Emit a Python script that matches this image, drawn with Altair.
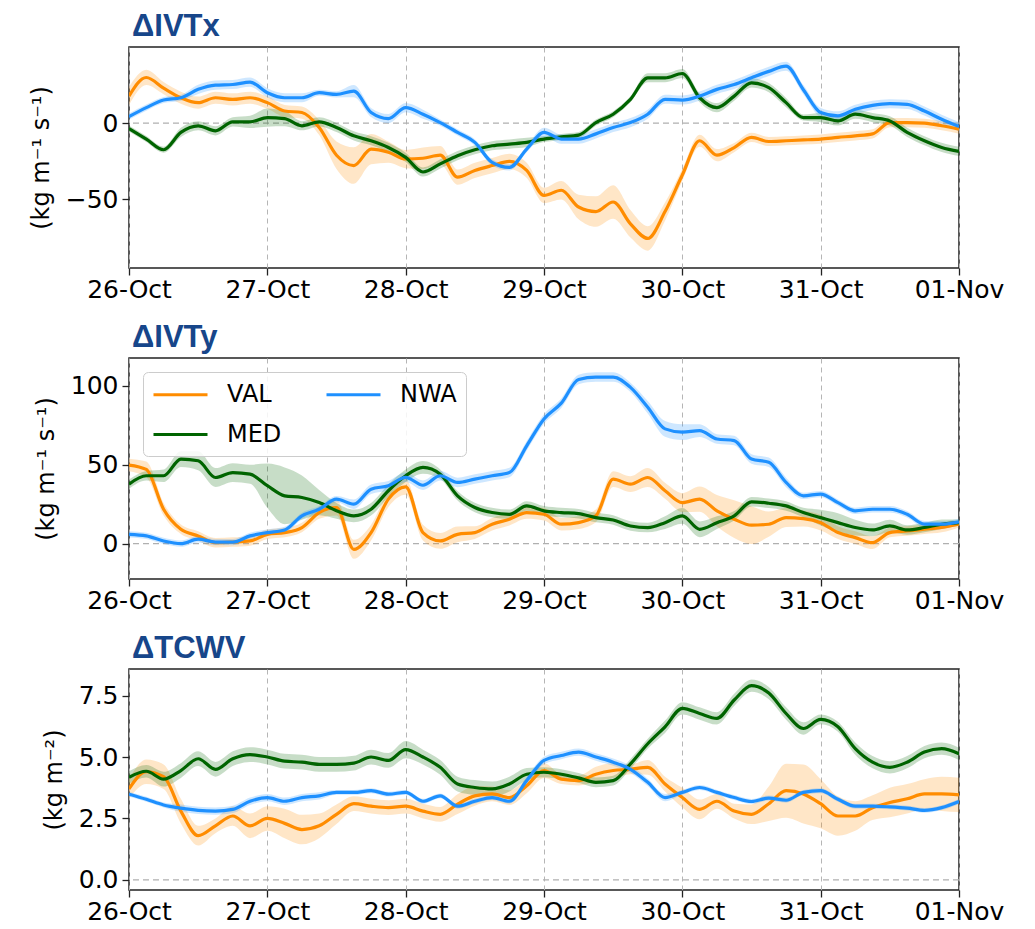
import altair as alt
import pandas as pd

# 3-hourly sample times, in days after 26-Oct 00:00
days = [i * 0.125 for i in range(49)]
day_ticks = [0, 1, 2, 3, 4, 5, 6]
day_labels = ["26-Oct", "27-Oct", "28-Oct", "29-Oct", "30-Oct", "31-Oct", "01-Nov"]

# legend order (column-wise, 2 columns): VAL, MED | NWA
regions = ["VAL", "MED", "NWA"]
region_colors = ["#ff8c00", "#006400", "#1e90ff"]
band_regions = ["VAL", "NWA", "MED"]
band_colors = ["#ff8c00", "#1e90ff", "#006400"]

# ---- ΔIVTx ----
ivtx_val = [17.8, 30.0, 23.0, 16.7, 13.5, 16.7, 15.6, 16.7,
            13.5, 8.0, 7.0, -2.8, -21.0, -27.8, -17.0, -19.0,
            -23.5, -23.0, -21.0, -35.4, -31.0, -27.8, -25.0, -31.0,
            -47.4, -44.0, -55.0, -58.0, -51.7, -66.0, -75.6, -58.0,
            -34.0, -11.5, -21.0, -16.0, -9.3, -12.0, -11.5, -11.0,
            -10.4, -9.3, -8.3, -7.0, 0.4, 0.4, 0.0, -1.7, -3.9]
ivtx_med = [-3.5, -10.4, -17.4, -6.0, -1.7, -5.0, 0.9, 0.9,
            3.7, 3.0, -1.7, 0.9, -2.8, -8.3, -11.5, -15.9,
            -22.4, -32.0, -26.7, -21.3, -17.4, -14.8, -13.7, -12.6,
            -10.4, -9.0, -7.8, 0.4, 5.9, 15.7, 29.8, 29.8,
            32.6, 16.7, 10.2, 17.8, 26.5, 23.3, 13.5, 3.7,
            3.7, 1.5, 5.9, 3.7, 1.5, -6.0, -11.5, -15.9, -18.5]
ivtx_nwa = [4.3, 10.2, 15.2, 16.7, 22.2, 25.0, 25.4, 27.0,
            20.0, 16.7, 16.7, 20.0, 18.9, 21.0, 7.0, 3.0,
            10.2, 5.9, 0.4, -6.0, -12.6, -25.7, -29.0, -17.0,
            -6.0, -10.4, -10.4, -7.0, -2.8, 0.4, 5.9, 15.7,
            15.2, 17.8, 22.2, 25.4, 29.8, 34.0, 37.4, 22.0,
            7.0, 4.8, 9.1, 11.7, 12.8, 12.4, 8.0, 2.6, -2.2]
ivtx_val_sp = [6, 5, 4, 4, 4, 4, 4, 4,
               4, 4, 4, 5, 9, 12, 10, 7,
               6, 7, 6, 5, 5, 5, 5, 5,
               5, 6, 8, 10, 11, 9, 8, 6,
               4, 4, 4, 3, 3, 3, 3, 3,
               3, 3, 3, 3, 3, 3, 3, 3, 3]
ivtx_med_sp = [2, 2, 2, 3, 3, 3, 3, 4,
               6, 5, 3, 3, 3, 3, 3, 3,
               3, 3, 3, 3, 3, 3, 3, 3,
               2, 2, 2, 2, 2, 2, 3, 3,
               3, 3, 3, 3, 3, 3, 3, 2,
               3, 3, 3, 3, 3, 3, 3, 3, 3]
ivtx_nwa_sp = [2, 2, 2, 2, 3, 3, 3, 3,
               3, 3, 3, 2, 2, 4, 3, 3,
               3, 3, 2, 2, 2, 2, 2, 2,
               3, 3, 3, 3, 3, 3, 3, 3,
               3, 3, 3, 3, 3, 3, 3, 3,
               3, 3, 3, 3, 3, 3, 3, 3, 3]

# ---- ΔIVTy ----
ivty_val = [49.8, 47.0, 21.8, 9.1, 4.9, 0.6, 1.0, 1.7,
            5.9, 7.0, 10.2, 19.7, 22.9, -3.6, 7.0, 28.2,
            36.0, 7.0, 1.7, 5.9, 7.0, 12.3, 15.5, 19.7,
            18.6, 12.3, 13.3, 17.6, 40.9, 37.7, 41.9, 33.5,
            26.0, 28.2, 20.8, 15.5, 11.7, 12.3, 16.5, 15.9,
            13.3, 7.0, 3.8, 0.6, 7.0, 8.0, 9.1, 10.2, 12.3]
ivty_med = [37.7, 43.0, 43.0, 53.6, 52.5, 41.9, 45.0, 44.0,
            36.7, 30.3, 29.2, 26.0, 20.8, 17.6, 21.8, 33.5,
            43.0, 48.3, 44.0, 30.3, 22.9, 19.7, 18.6, 23.9,
            20.8, 19.7, 19.0, 16.5, 15.0, 11.2, 10.2, 13.3,
            17.6, 9.1, 13.3, 17.6, 26.5, 25.6, 23.9, 19.7,
            16.5, 13.3, 10.2, 8.7, 11.2, 8.7, 10.2, 12.3, 13.3]
ivty_nwa = [5.9, 4.9, 1.7, 0.0, 2.8, 1.0, 1.0, 4.9,
            7.0, 8.7, 17.6, 21.8, 28.2, 25.0, 34.5, 36.7,
            42.0, 37.0, 43.0, 38.8, 40.9, 43.0, 45.0, 62.0,
            79.0, 89.0, 104.0, 105.5, 105.5, 99.0, 86.4, 72.7,
            70.6, 71.6, 66.3, 65.3, 53.6, 51.5, 38.8, 30.3,
            31.4, 26.0, 20.8, 21.8, 21.8, 18.6, 12.3, 12.3, 13.8]
ivty_val_sp = [4, 5, 4, 3, 3, 3, 3, 3,
               3, 3, 3, 4, 5, 6, 5, 5,
               5, 5, 5, 5, 4, 4, 4, 4,
               4, 4, 4, 4, 5, 5, 6, 5,
               6, 8, 10, 12, 12, 8, 6, 5,
               5, 4, 4, 4, 3, 3, 3, 3, 2]
ivty_med_sp = [3, 3, 4, 5, 6, 6, 6, 6,
               14, 18, 14, 8, 5, 4, 4, 4,
               4, 4, 3, 3, 3, 3, 3, 3,
               3, 3, 3, 3, 3, 3, 3, 4,
               5, 5, 4, 3, 3, 3, 3, 3,
               5, 6, 5, 4, 4, 3, 3, 3, 2]
ivty_nwa_sp = [2, 2, 2, 2, 2, 2, 2, 2,
               2, 2, 2, 2, 2, 3, 3, 3,
               3, 3, 3, 3, 3, 3, 3, 3,
               3, 3, 3, 3, 3, 3, 4, 5,
               5, 4, 3, 3, 3, 3, 3, 2,
               2, 2, 2, 2, 2, 2, 2, 2, 2]

# ---- ΔTCWV ----
tcwv_val = [3.7, 4.4, 4.2, 2.8, 1.8, 2.2, 2.6, 2.2,
            2.5, 2.3, 2.05, 2.2, 2.67, 3.1, 3.0, 2.94,
            3.0, 2.8, 2.67, 3.08, 3.42, 3.5, 3.35, 3.83,
            4.45, 4.1, 4.04, 4.3, 4.45, 4.5, 4.58, 3.9,
            3.35, 2.87, 3.2, 2.8, 2.67, 3.1, 3.63, 3.5,
            3.1, 2.6, 2.6, 2.94, 3.15, 3.3, 3.5, 3.5, 3.46]
tcwv_med = [4.17, 4.42, 4.1, 4.45, 4.93, 4.5, 4.93, 5.1,
            5.0, 4.83, 4.79, 4.7, 4.7, 4.75, 5.0, 4.86,
            5.3, 5.0, 4.58, 3.9, 3.76, 3.7, 3.9, 4.3,
            4.38, 4.3, 4.15, 3.97, 4.04, 4.72, 5.54, 6.23,
            6.98, 6.77, 6.57, 7.32, 7.9, 7.6, 6.77, 6.16,
            6.53, 6.23, 5.34, 4.79, 4.58, 4.79, 5.2, 5.34, 5.13]
tcwv_nwa = [3.49, 3.28, 3.05, 2.92, 2.83, 2.8, 2.87, 3.2,
            3.35, 3.2, 3.35, 3.42, 3.56, 3.56, 3.63, 3.49,
            3.56, 3.2, 3.42, 3.0, 3.2, 3.35, 3.2, 4.04,
            4.86, 5.06, 5.2, 5.0, 4.79, 4.5, 3.97, 3.35,
            3.56, 3.76, 3.56, 3.35, 3.19, 3.33, 3.24, 3.56,
            3.63, 3.28, 3.0, 3.0, 2.97, 2.92, 2.83, 2.94, 3.19]
tcwv_val_sp = [0.4, 0.5, 0.5, 0.5, 0.4, 0.3, 0.4, 0.5,
               0.5, 0.6, 0.6, 0.5, 0.4, 0.3, 0.3, 0.3,
               0.3, 0.3, 0.3, 0.4, 0.4, 0.3, 0.3, 0.3,
               0.3, 0.2, 0.2, 0.3, 0.3, 0.2, 0.3, 0.3,
               0.4, 0.4, 0.3, 0.3, 0.4, 0.7, 1.1, 1.2,
               1.0, 0.8, 0.6, 0.5, 0.6, 0.6, 0.6, 0.7, 0.7]
tcwv_med_sp = [0.25, 0.25, 0.3, 0.3, 0.3, 0.3, 0.3, 0.3,
               0.3, 0.3, 0.3, 0.3, 0.3, 0.3, 0.3, 0.3,
               0.35, 0.3, 0.3, 0.3, 0.3, 0.3, 0.3, 0.25,
               0.2, 0.2, 0.2, 0.2, 0.2, 0.2, 0.2, 0.25,
               0.25, 0.25, 0.25, 0.25, 0.25, 0.25, 0.25, 0.25,
               0.2, 0.2, 0.25, 0.25, 0.25, 0.25, 0.25, 0.25, 0.25]
tcwv_nwa_sp = [0.1, 0.1, 0.1, 0.15, 0.15, 0.15, 0.15, 0.15,
               0.15, 0.15, 0.15, 0.15, 0.1, 0.1, 0.1, 0.1,
               0.1, 0.1, 0.1, 0.1, 0.1, 0.1, 0.1, 0.15,
               0.15, 0.15, 0.15, 0.15, 0.15, 0.15, 0.15, 0.15,
               0.1, 0.1, 0.1, 0.1, 0.1, 0.1, 0.1, 0.1,
               0.1, 0.1, 0.1, 0.1, 0.1, 0.1, 0.1, 0.1, 0.1]

TITLE_COLOR = "#17468a"
W, H = 830, 221


def make_df(series):
    rows = []
    for region, vals, spr in series:
        for t, v, s in zip(days, vals, spr):
            rows.append({"t": t, "region": region, "value": v, "lo": v - s, "hi": v + s})
    return pd.DataFrame(rows)


label_expr = "[" + ",".join("'%s'" % l for l in day_labels) + "][round(datum.value)]"


def panel(title, ytitle, series, ydomain, yticks, yfmt, legend):
    df = make_df(series)
    xenc = alt.X("t:Q", scale=alt.Scale(domain=[0, 6], nice=False, zero=False),
                 axis=alt.Axis(values=day_ticks, labelExpr=label_expr, title=None,
                               grid=True, gridDash=[5, 4], gridColor="#b5b5b5",
                               gridWidth=1, labelPadding=2, labelFlush=False,
                               labelOverlap=False))
    yscale = alt.Scale(domain=ydomain, nice=False, zero=False)
    yaxis = alt.Axis(values=yticks, format=yfmt, grid=False, titlePadding=12, labelPadding=4)

    zero = alt.Chart(pd.DataFrame({"zero": [0]})).mark_rule(
        color="#b0b0b0", strokeDash=[6, 4], strokeWidth=1.3
    ).encode(y=alt.Y("zero:Q", scale=yscale, axis=yaxis, title=ytitle))

    base = alt.Chart(df)
    band = base.mark_area(opacity=0.22, clip=True, interpolate="monotone").encode(
        x=xenc,
        y=alt.Y("lo:Q", scale=yscale, axis=yaxis, title=ytitle),
        y2="hi:Q",
        fill=alt.Fill("region:N", scale=alt.Scale(domain=band_regions, range=band_colors),
                      legend=None),
    )
    cscale = alt.Scale(domain=regions, range=region_colors)
    if legend is None:
        cenc = alt.Color("region:N", scale=cscale, legend=None)
    else:
        cenc = alt.Color("region:N", scale=cscale, legend=legend)
    line = base.mark_line(strokeWidth=3.2, clip=True, interpolate="monotone").encode(
        x=xenc,
        y=alt.Y("value:Q", scale=yscale, axis=yaxis, title=ytitle),
        color=cenc,
    )
    return alt.layer(zero, band, line).properties(
        width=W, height=H,
        title=alt.TitleParams(text=title, anchor="start", frame="group", fontSize=31,
                              fontWeight="bold", color=TITLE_COLOR,
                              font="Liberation Sans", offset=4, dx=3),
    )


legend2 = alt.Legend(
    orient="top-left", offset=14, columns=2, title=None,
    symbolType="M-1,0H3.5", symbolSize=576, symbolStrokeWidth=3,
    labelFontSize=24, labelFont="DejaVu Sans", labelColor="black", labelOffset=48,
    fillColor="rgba(255,255,255,0.85)", strokeColor="#cccccc", cornerRadius=5,
    padding=9, rowPadding=14, columnPadding=38,
)

p1 = panel("ΔIVTx", "(kg m⁻¹ s⁻¹)",
           [("VAL", ivtx_val, ivtx_val_sp), ("MED", ivtx_med, ivtx_med_sp), ("NWA", ivtx_nwa, ivtx_nwa_sp)],
           [-95, 50], [-50, 0], "d", None)
p2 = panel("ΔIVTy", "(kg m⁻¹ s⁻¹)",
           [("VAL", ivty_val, ivty_val_sp), ("MED", ivty_med, ivty_med_sp), ("NWA", ivty_nwa, ivty_nwa_sp)],
           [-22.4, 117.6], [0, 50, 100], "d", legend2)
p3 = panel("ΔTCWV", "(kg m⁻²)",
           [("VAL", tcwv_val, tcwv_val_sp), ("MED", tcwv_med, tcwv_med_sp), ("NWA", tcwv_nwa, tcwv_nwa_sp)],
           [-0.41, 8.58], [0, 2.5, 5, 7.5], ".1f", None)

chart = alt.vconcat(p1, p2, p3, spacing=18).resolve_scale(
    color="independent", fill="independent", y="independent"
).resolve_legend(
    color="independent", fill="independent"
).properties(
    padding={"left": 20, "top": 2, "right": 10, "bottom": 3}
).configure_view(
    stroke="#222222", strokeWidth=1.5
).configure_axis(
    labelFont="DejaVu Sans", labelFontSize=25, labelColor="black",
    titleFont="DejaVu Sans", titleFontSize=24, titleFontWeight="normal", titleColor="black",
    tickColor="#222222", tickSize=7, tickWidth=1.3, domain=False,
)

chart.save("out.html", embed_options={"renderer": "svg", "actions": False})
